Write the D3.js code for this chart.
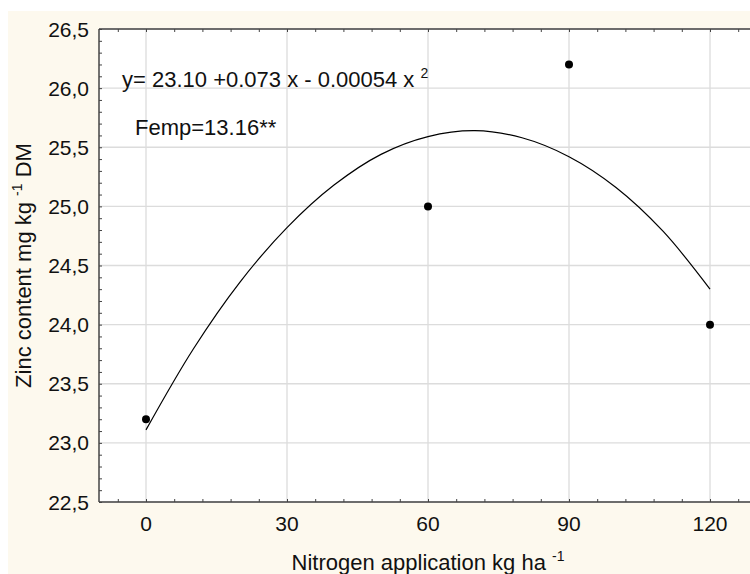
<!DOCTYPE html>
<html>
<head>
<meta charset="utf-8">
<script src="https://cdn.jsdelivr.net/npm/d3@7"></script>
<style>
  body { margin: 0; background: #fff; }
  text { font-family: "Liberation Sans", Arial, sans-serif; fill: #111; }
</style>
</head>
<body>
<script>
// Observed values
const nitrogen = [0, 60, 90, 120];
const zinc = [23.2, 25.0, 26.2, 24.0];

// Fitted curve
const fitX = [0, 10, 20, 30, 40, 50, 60, 70, 80, 90, 100, 110, 120];
const fitY = [23.11, 23.79, 24.36, 24.82, 25.18, 25.44, 25.59, 25.64, 25.58, 25.42, 25.16, 24.79, 24.30];

// Tick labels
const xTicks = [0, 30, 60, 90, 120];
const yTicks = [22.5, 23.0, 23.5, 24.0, 24.5, 25.0, 25.5, 26.0, 26.5];

const width = 750, height = 574;
const margin = {left: 99, top: 29, bottom: 502, right: 757};

const svg = d3.select('body')
    .append('svg')
    .attr('width', width)
    .attr('height', height);

// Cream page background
svg.append('rect')
    .attr('x', 8).attr('y', 11)
    .attr('width', width - 8).attr('height', height - 11)
    .attr('fill', '#fdf9ee');

const x = d3.scaleLinear().domain([-10, 130]).range([margin.left, margin.right]);
const y = d3.scaleLinear().domain([22.5, 26.5]).range([margin.bottom, margin.top]);

// Plot area
svg.append('rect')
    .attr('x', margin.left).attr('y', margin.top)
    .attr('width', margin.right - margin.left)
    .attr('height', margin.bottom - margin.top)
    .attr('fill', '#fff');

// Grid
const grid = svg.append('g').attr('stroke', '#dcdcdc').attr('stroke-width', 1.3);
grid.selectAll('.gx').data(xTicks).join('line')
    .attr('x1', d => x(d)).attr('x2', d => x(d))
    .attr('y1', margin.top).attr('y2', margin.bottom);
grid.selectAll('.gy').data(yTicks).join('line')
    .attr('y1', d => y(d)).attr('y2', d => y(d))
    .attr('x1', margin.left).attr('x2', margin.right);

// Axes with inward ticks
const xMinor = d3.range(-6, 130, 6);
const yMinor = d3.range(225, 266, 1).map(v => v / 10);

svg.append('g')
    .attr('transform', `translate(0,${margin.bottom})`)
    .call(d3.axisTop(x).tickValues(xMinor).tickSize(3).tickFormat(''))
    .call(g => g.select('.domain').remove());
svg.append('g')
    .attr('transform', `translate(0,${margin.top})`)
    .call(d3.axisBottom(x).tickValues(xMinor).tickSize(3).tickFormat(''))
    .call(g => g.select('.domain').remove());
svg.append('g')
    .attr('transform', `translate(${margin.left},0)`)
    .call(d3.axisRight(y).tickValues(yMinor).tickSize(3).tickFormat(''))
    .call(g => g.select('.domain').remove());

svg.selectAll('g.tick line').attr('stroke', '#444');

// Axis frame
const frame = svg.append('g').attr('stroke', '#444').attr('stroke-width', 1.5).attr('fill', 'none');
frame.append('line').attr('x1', margin.left).attr('x2', width).attr('y1', margin.bottom).attr('y2', margin.bottom);
frame.append('line').attr('x1', margin.left).attr('x2', width).attr('y1', margin.top).attr('y2', margin.top);
frame.append('line').attr('x1', margin.left).attr('x2', margin.left).attr('y1', margin.top).attr('y2', margin.bottom);

// Tick labels
svg.append('g').selectAll('text').data(xTicks).join('text')
    .attr('x', d => x(d)).attr('y', 531)
    .attr('text-anchor', 'middle')
    .attr('font-size', 21)
    .text(d => d);

svg.append('g').selectAll('text').data(yTicks).join('text')
    .attr('x', 89).attr('y', d => y(d) + 7.5)
    .attr('text-anchor', 'end')
    .attr('font-size', 21)
    .text(d => d3.format('.1f')(d).replace('.', ','));

// Fitted curve
const fit = fitX.map((d, i) => [d, fitY[i]]);
svg.append('path')
    .datum(fit)
    .attr('fill', 'none')
    .attr('stroke', '#000')
    .attr('stroke-width', 1.2)
    .attr('d', d3.line().x(d => x(d[0])).y(d => y(d[1])).curve(d3.curveCatmullRom));

// Points
svg.append('g').selectAll('circle').data(nitrogen).join('circle')
    .attr('cx', d => x(d))
    .attr('cy', (d, i) => y(zinc[i]))
    .attr('r', 4)
    .attr('fill', '#000');

// Equation text
const eq = svg.append('text').attr('x', 122).attr('y', 87).attr('font-size', 22);
eq.append('tspan').text('y= 23.10 +0.073 x - 0.00054 x ');
eq.append('tspan').attr('font-size', 14).attr('dy', -9).text('2');

svg.append('text').attr('x', 135).attr('y', 135).attr('font-size', 22).text('Femp=13.16**');

// Axis titles
const xl = svg.append('text')
    .attr('x', 428).attr('y', 570)
    .attr('text-anchor', 'middle')
    .attr('font-size', 22);
xl.append('tspan').text('Nitrogen application kg ha ');
xl.append('tspan').attr('font-size', 14).attr('dy', -9).text('-1');

const yl = svg.append('text')
    .attr('transform', `translate(31,${(margin.top + margin.bottom) / 2}) rotate(-90)`)
    .attr('text-anchor', 'middle')
    .attr('font-size', 22);
yl.append('tspan').text('Zinc content mg kg ');
yl.append('tspan').attr('font-size', 14).attr('dy', -9).text('-1');
yl.append('tspan').attr('dy', 9).text(' DM');
</script>
</body>
</html>
